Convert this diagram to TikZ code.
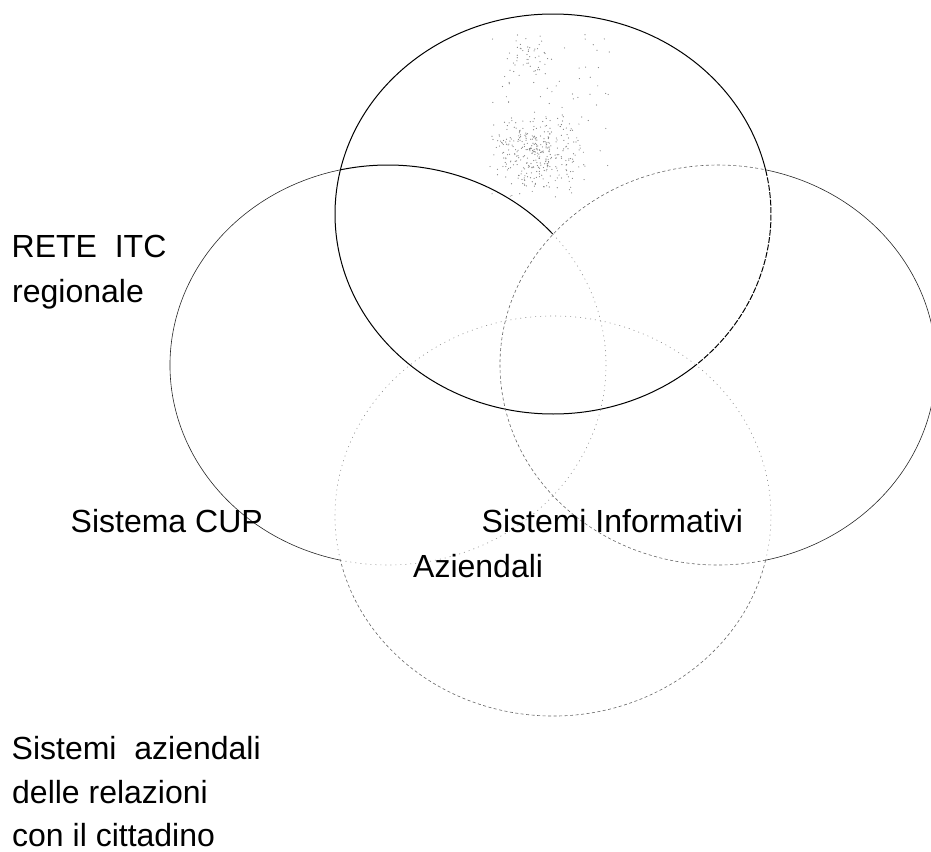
\documentclass[tikz,border=0pt]{standalone}
\usepackage{fontspec}
\setmainfont{Liberation Sans}

\begin{document}
\begin{tikzpicture}[x=1pt, y=-1pt,
    txt/.style={anchor=base west, inner sep=0pt, font=\fontsize{32}{45}\selectfont},
    firm/.style={line width=1pt, black},
    firmdash/.style={line width=1pt, black, dash pattern=on 6pt off 1.5pt},
    fine/.style={line width=0.6pt, black!85},
    dashy/.style={line width=0.6pt, black!60, dash pattern=on 3pt off 2.5pt},
    faint/.style={line width=0.6pt, black!45, dash pattern=on 1pt off 4pt},
    speck/.style={fill=black!50}]
\useasboundingbox (0,0) rectangle (931,851);
% centres of the four circles
\coordinate (T) at (553,214);
\coordinate (L) at (388,365);
\coordinate (R) at (718,365);
\coordinate (B) at (553,516);

% grey speckle in the top circle
\pgfmathsetseed{11}
\foreach \i in {1,...,320} {
    \fill[speck] ({537+48*(rnd+rnd-1)},{155+44*(rnd+rnd-1)}) circle [radius=0.6];
}
\foreach \i in {1,...,90} {
    \fill[speck] ({490+120*rnd},{30+150*rnd}) circle [radius=0.6];
}
\foreach \i in {1,...,40} {
    \fill[speck] ({530+25*(rnd+rnd-1)},{65+35*(rnd+rnd-1)}) circle [radius=0.6];
}

% top circle
\draw[firm] (T) ++(49.1:218 and 200)
    arc [start angle=49.1, end angle=347.31, x radius=218, y radius=200];
\draw[firmdash] (T) ++(-12.69:218 and 200)
    arc [start angle=-12.69, end angle=49.1, x radius=218, y radius=200];

% left circle
\draw[firm] (L) ++(-102.69:218 and 200)
    arc [start angle=-102.69, end angle=-40.9, x radius=218, y radius=200];
\draw[faint] (L) ++(-40.9:218 and 200)
    arc [start angle=-40.9, end angle=102.69, x radius=218, y radius=200];
\draw[fine] (L) ++(102.69:218 and 200)
    arc [start angle=102.69, end angle=257.31, x radius=218, y radius=200];

% right circle
\draw[fine] (R) ++(-77.31:218 and 200)
    arc [start angle=-77.31, end angle=77.31, x radius=218, y radius=200];
\draw[dashy] (R) ++(77.31:218 and 200)
    arc [start angle=77.31, end angle=282.69, x radius=218, y radius=200];

% bottom circle
\draw[dashy] (B) ++(12.69:218 and 200)
    arc [start angle=12.69, end angle=167.31, x radius=218, y radius=200];
\draw[faint] (B) ++(167.31:218 and 200)
    arc [start angle=167.31, end angle=372.69, x radius=218, y radius=200];

% labels
\node[txt] (rete) at (11.5,257) {RETE\ \ ITC};
\node[txt] (regionale) at (12,302) {regionale};
\node[txt] (cup) at (70.5,532) {Sistema CUP};
\node[txt] (sisinf) at (481.5,532) {Sistemi Informativi};
\node[txt] (aziendali) at (413,577) {Aziendali};
\node[txt] (sisaz) at (11.5,759) {Sistemi\ \ aziendali};
\node[txt] (relazioni) at (12,803) {delle relazioni};
\node[txt] (cittadino) at (12,846) {con il cittadino};
\end{tikzpicture}
\end{document}
